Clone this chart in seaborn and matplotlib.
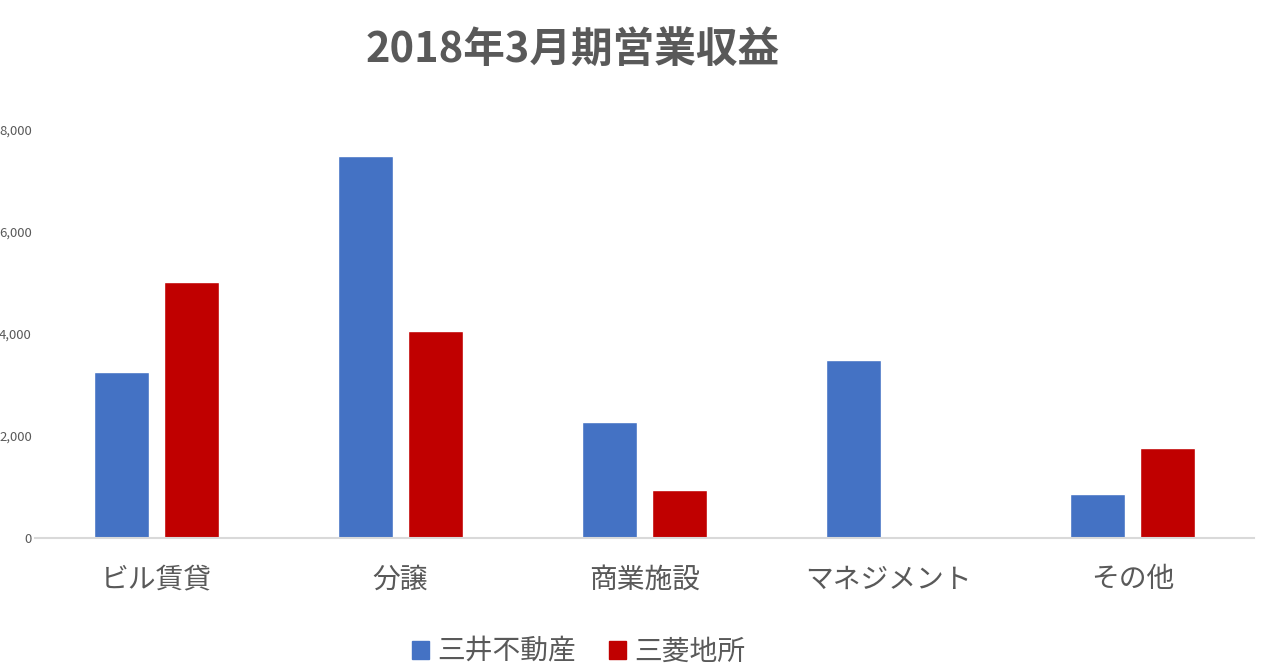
import matplotlib
matplotlib.use("Agg")
import matplotlib.pyplot as plt
import pandas as pd
import seaborn as sns
from matplotlib.patches import Patch

# 2018年3月期 営業収益 (億円)
categories = ["ビル賃貸", "分譲", "商業施設", "マネジメント", "その他"]
mitsui = [3260, 7490, 2270, 3490, 860]
mitsubishi = [5020, 4060, 940, 0, 1760]
companies = ["三井不動産", "三菱地所"]
yticks = [0, 2000, 4000, 6000, 8000]

df = pd.DataFrame({
    "segment": categories * 2,
    "company": [companies[0]] * 5 + [companies[1]] * 5,
    "value": mitsui + mitsubishi,
})

sns.set_theme(style="white")
plt.rcParams["font.family"] = ["Noto Sans CJK JP", "DejaVu Sans"]

fig = plt.figure(figsize=(12.8, 6.7), dpi=100)
ax = fig.add_axes([0.027, 0.197, 0.953, 0.609])

sns.barplot(data=df, x="segment", y="value", hue="company",
            palette=["#4472C4", "#C00000"], width=0.57, gap=0.21,
            ax=ax, legend=False, saturation=1)

ax.set_xlim(-0.5, 4.5)
ax.set_ylim(0, 8000)
ax.set_yticks(yticks)
ax.set_yticklabels([f"{v:,}" for v in yticks])
# y labels are squeezed into the narrow left margin
ax.tick_params(axis="y", length=0, pad=2, labelsize=9.5, labelcolor="#595959")
ax.tick_params(axis="x", length=0, pad=19, labelsize=20, labelcolor="#595959")
ax.set_xlabel("")
ax.set_ylabel("")
for s in ["top", "right", "left"]:
    ax.spines[s].set_visible(False)
ax.spines["bottom"].set_color("#D9D9D9")
ax.spines["bottom"].set_linewidth(1.5)

fig.text(0.447, 0.925, "2018年3月期営業収益", ha="center", va="center",
         fontsize=30, fontweight="bold", color="#595959")

handles = [Patch(color="#4472C4"), Patch(color="#C00000")]
fig.legend(handles, companies, loc="center", bbox_to_anchor=(0.452, 0.027),
           ncol=2, frameon=False, fontsize=20, labelcolor="#595959",
           handlelength=0.6, handleheight=0.6, handletextpad=0.3,
           columnspacing=1.2)

fig.savefig("out.png", dpi=100)
